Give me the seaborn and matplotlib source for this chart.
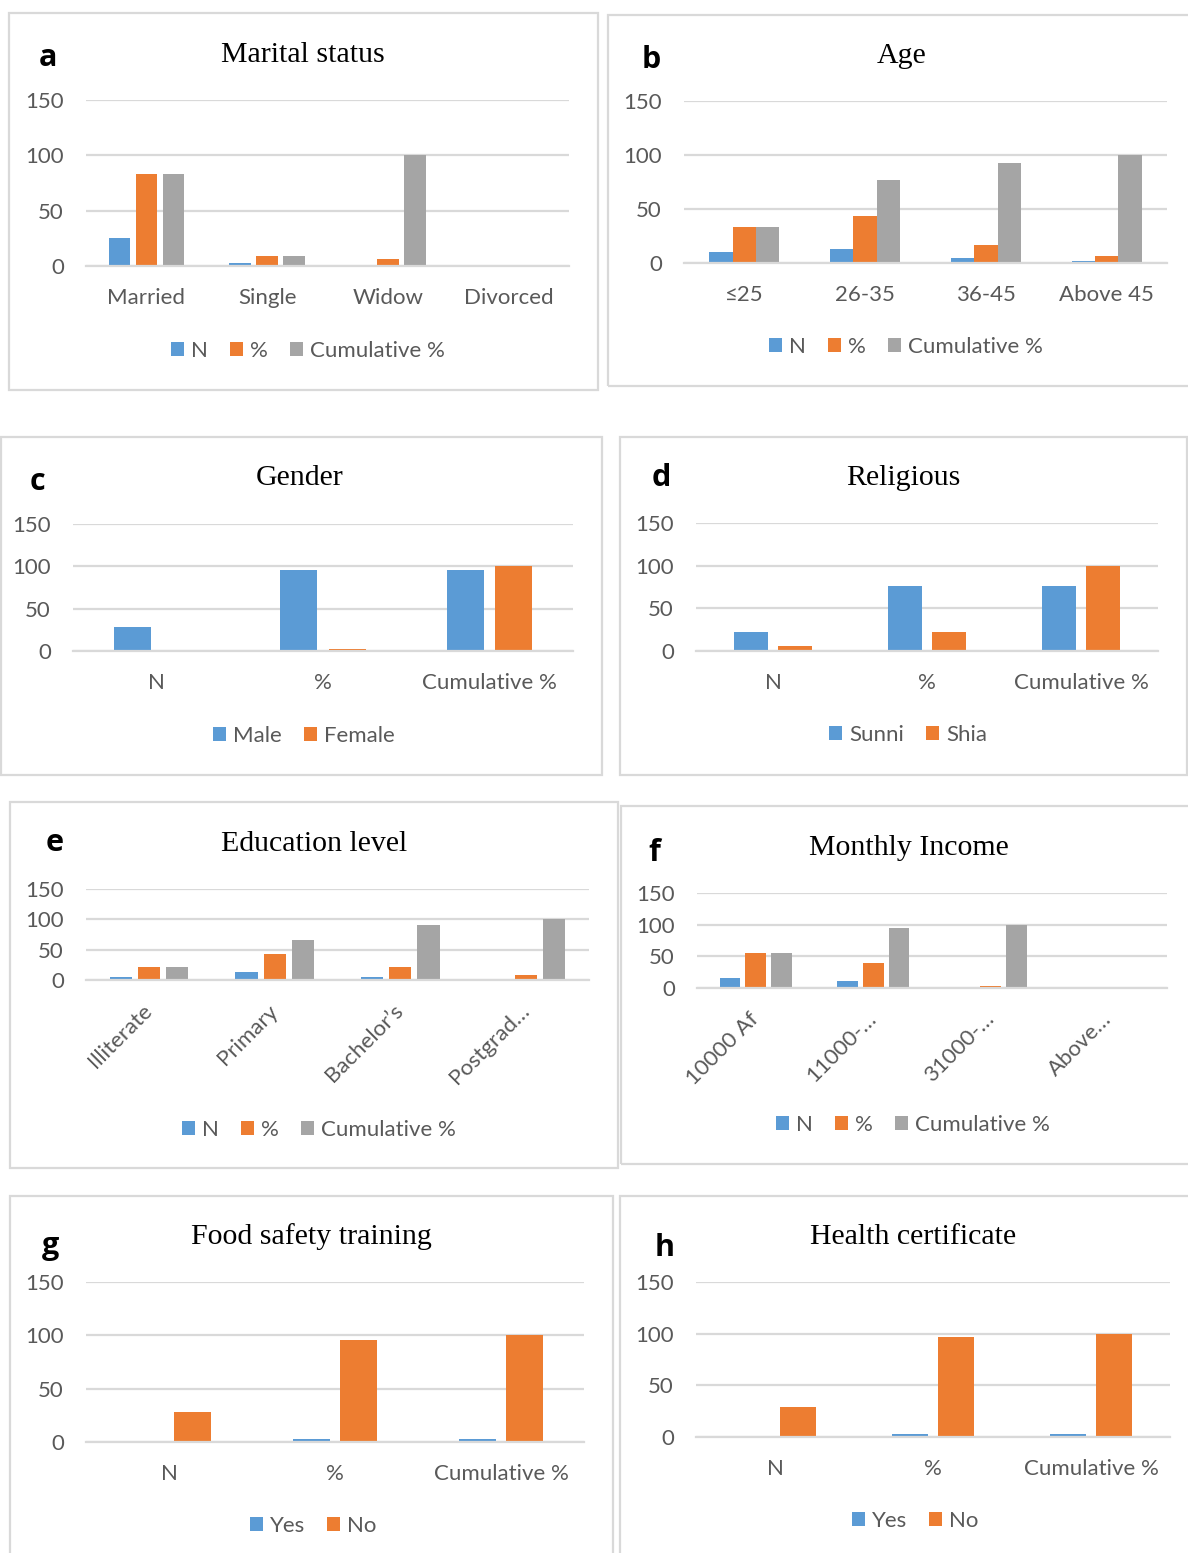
import matplotlib
matplotlib.use("Agg")
import matplotlib.pyplot as plt
from matplotlib.patches import Rectangle, Patch
import seaborn as sns
import pandas as pd

# ---- data -------------------------------------------------------------
marital_cats = ["Married", "Single", "Widow", "Divorced"]
marital_n = [25, 2.5, 1, 0]
marital_pct = [83.5, 9.1, 6.4, 0]
marital_cum = [83.5, 9.1, 100, 0]

age_cats = ["≤25", "26-35", "36-45", "Above 45"]
age_n = [10, 13, 5, 2]
age_pct = [33.3, 43.3, 16.7, 6.7]
age_cum = [33.3, 76.5, 93, 100]

stat_cats = ["N", "%", "Cumulative %"]

gender_male = [28, 96, 96]
gender_female = [0.8, 2.5, 100]

religion_sunni = [22.5, 76.5, 76.5]
religion_shia = [5.5, 22.5, 100]

edu_cats = ["Illiterate", "Primary", "Bachelor\u2019s", "Postgrad\u2026"]
edu_n = [5.5, 12.7, 5.5, 2.2]
edu_pct = [22, 42.5, 22, 8.8]
edu_cum = [22, 66.3, 90, 100]

income_cats = ["10000 Af", "11000-\u2026", "31000-\u2026", "Above\u2026"]
income_n = [16, 11, 0.4, 0]
income_pct = [56, 39.4, 2.7, 0]
income_cum = [56, 95.2, 100, 0]

training_yes = [0, 3.1, 3.1]
training_no = [28.5, 96, 100]

health_yes = [0.6, 2.6, 2.6]
health_no = [28.6, 96.4, 100]

three_series = ["N", "%", "Cumulative %"]

# ---- style ------------------------------------------------------------
sns.set_theme(style="white")
plt.rcParams["font.family"] = ["Lato", "DejaVu Sans"]

BLUE, ORANGE, GRAY = "#5B9BD5", "#ED7D31", "#A5A5A5"
GRID = "#D9D9D9"
TXT = "#595959"
W, H = 1188, 1553

fig = plt.figure(figsize=(W / 100, H / 100), dpi=100)


def fx(x):
    return x / W


def fy(y):
    return 1 - y / H


def panel(box, plot, cats, names, values, colors, width, gap,
          title, title_xy, letter, letter_xy, legend_xy, rotate=False):
    # frame around the panel
    x0, y0, x1, y1 = box
    fig.patches.append(Rectangle((fx(x0), fy(y1)), fx(x1 - x0), (y1 - y0) / H,
                                 transform=fig.transFigure, fill=False,
                                 edgecolor=GRID, linewidth=1.6, zorder=0))
    l, t, r, b = plot
    ax = fig.add_axes([fx(l), fy(b), fx(r - l), (b - t) / H])
    rows = []
    for name, vals in zip(names, values):
        for c, v in zip(cats, vals):
            rows.append({"cat": c, "series": name, "value": v})
    df = pd.DataFrame(rows)
    sns.barplot(data=df, x="cat", y="value", hue="series", order=cats,
                hue_order=names, palette=colors, width=width, gap=gap,
                saturation=1, errorbar=None, legend=False, ax=ax,
                linewidth=0)
    ax.set_xlim(-0.5, len(cats) - 0.5)
    ax.set_ylim(0, 150)
    ax.set_yticks([0, 50, 100, 150])
    ax.set_xlabel("")
    ax.set_ylabel("")
    ax.yaxis.grid(True, color=GRID, linewidth=1.6)
    ax.set_axisbelow(True)
    for s in ["top", "left", "right"]:
        ax.spines[s].set_visible(False)
    ax.spines["bottom"].set_color(GRID)
    ax.spines["bottom"].set_linewidth(1.6)
    ax.tick_params(axis="y", length=0, pad=16, labelsize=16, labelcolor=TXT)
    ax.tick_params(axis="x", length=0, pad=16, labelsize=16, labelcolor=TXT)
    if rotate:
        for lab in ax.get_xticklabels():
            lab.set_rotation(45)
            lab.set_ha("right")
            lab.set_va("center")
            lab.set_rotation_mode("anchor")
        ax.tick_params(axis="x", pad=20)
    ax.patch.set_alpha(0)
    fig.text(fx(title_xy[0]), fy(title_xy[1] + 3), title, ha="center", va="center",
             fontsize=21.5, family="Liberation Serif", color="black")
    fig.text(fx(letter_xy[0]), fy(letter_xy[1] + 3), letter, ha="center", va="center",
             fontsize=22, family="Open Sans", fontweight="bold", color="black")
    handles = [Patch(facecolor=c, edgecolor="none") for c in colors]
    fig.legend(handles, names, loc="center", ncol=len(names),
               bbox_to_anchor=(fx(legend_xy[0]), fy(legend_xy[1])),
               frameon=False, fontsize=16, labelcolor=TXT,
               handlelength=0.6, handleheight=0.6, handletextpad=0.3,
               columnspacing=1.0, borderpad=0, borderaxespad=0)
    return ax


panel((9, 13, 598, 390), (86, 100, 569, 266), marital_cats, three_series,
      [marital_n, marital_pct, marital_cum], [BLUE, ORANGE, GRAY], 0.67, 0.2,
      "Marital status", (303, 52), "a", (48, 55), (308, 351))

panel((608, 15, 1196, 386), (684, 101, 1167, 263), age_cats, three_series,
      [age_n, age_pct, age_cum], [BLUE, ORANGE, GRAY], 0.58, 0.0,
      "Age", (902, 53), "b", (651, 57), (906, 347))

panel((1, 437, 602, 775), (73, 524, 573, 651), stat_cats, ["Male", "Female"],
      [gender_male, gender_female], [BLUE, ORANGE], 0.58, 0.23,
      "Gender", (300, 475), "c", (37, 479), (304, 736))

panel((620, 437, 1187, 775), (696, 523, 1158, 651), stat_cats, ["Sunni", "Shia"],
      [religion_sunni, religion_shia], [BLUE, ORANGE], 0.57, 0.23,
      "Religious", (903, 475), "d", (661, 475), (908, 735))

panel((10, 802, 618, 1168), (86, 889, 589, 980), edu_cats, three_series,
      [edu_n, edu_pct, edu_cum], [BLUE, ORANGE, GRAY], 0.67, 0.21,
      "Education level", (314, 841), "e", (55, 840), (319, 1130), rotate=True)

panel((621, 806, 1196, 1164), (697, 893, 1167, 988), income_cats, three_series,
      [income_n, income_pct, income_cum], [BLUE, ORANGE, GRAY], 0.66, 0.2,
      "Monthly Income", (909, 845), "f", (654, 850), (913, 1125), rotate=True)

panel((10, 1196, 613, 1565), (86, 1282, 584, 1442), stat_cats, ["Yes", "No"],
      [training_yes, training_no], [BLUE, ORANGE], 0.57, 0.21,
      "Food safety training", (311, 1234), "g", (50, 1243), (313, 1526))

panel((620, 1196, 1196, 1565), (696, 1282, 1170, 1437), stat_cats, ["Yes", "No"],
      [health_yes, health_no], [BLUE, ORANGE], 0.59, 0.22,
      "Health certificate", (913, 1234), "h", (665, 1245), (915, 1521))

fig.savefig("out.png", dpi=100, facecolor="white")
